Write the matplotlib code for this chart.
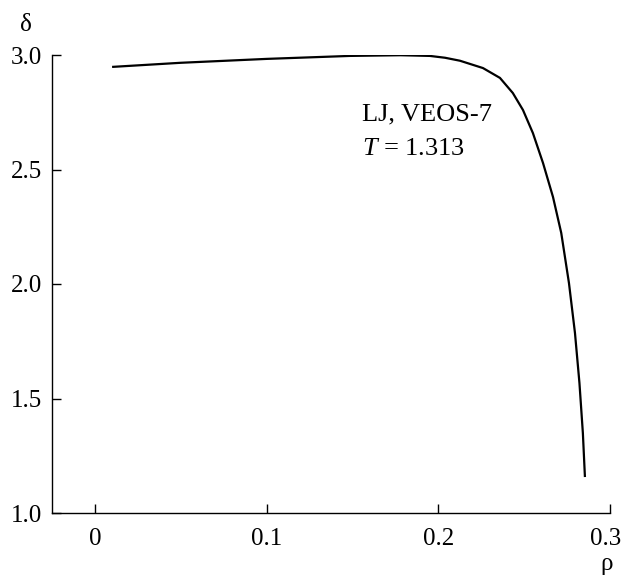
import matplotlib
matplotlib.use("Agg")
import matplotlib.pyplot as plt
import matplotlib.transforms as mtransforms

plt.rcParams['font.family'] = ['Liberation Serif', 'DejaVu Serif']
plt.rcParams['mathtext.fontset'] = 'custom'
plt.rcParams['mathtext.rm'] = 'Liberation Serif'
plt.rcParams['mathtext.it'] = 'Liberation Serif:italic'

rho = [0.010, 0.050, 0.100, 0.1485, 0.178, 0.1951, 0.2039, 0.2126, 0.2260, 0.2359,
       0.2434, 0.2493, 0.2551, 0.2610, 0.2668, 0.2716, 0.2761, 0.2796, 0.2822,
       0.2842, 0.2854]
delta = [2.948, 2.966, 2.983, 2.996, 2.999, 2.996, 2.988, 2.975, 2.943, 2.900,
         2.834, 2.760, 2.659, 2.528, 2.380, 2.223, 2.004, 1.786, 1.568,
         1.349, 1.157]

xticks = [0, 0.1, 0.2, 0.3]
xticklabels = ["0", "0.1", "0.2", "0.3"]
yticks = [1.0, 1.5, 2.0, 2.5, 3.0]
yticklabels = ["1.0", "1.5", "2.0", "2.5", "3.0"]

W, H = 624, 577
fig = plt.figure(figsize=(W / 100, H / 100), dpi=100)
L, R, T, B = 52, 610, 55, 513
ax = fig.add_axes([L / W, 1 - B / H, (R - L) / W, (B - T) / H])

ax.plot(rho, delta, color='black', lw=1.6, solid_capstyle='butt', solid_joinstyle='round')

ax.set_xlim(-0.025, 0.3)
ax.set_ylim(1.0, 3.0)
ax.set_xticks(xticks)
ax.set_xticklabels(xticklabels)
ax.set_yticks(yticks)
ax.set_yticklabels(yticklabels)

for s in ['top', 'right']:
    ax.spines[s].set_visible(False)
for s in ['left', 'bottom']:
    ax.spines[s].set_linewidth(1.0)

fs = 19
tfs = 18
ax.tick_params(axis='both', direction='in', length=6.5, width=1.0, labelsize=tfs)
ax.tick_params(axis='x', pad=11)
ax.tick_params(axis='y', pad=7)

# nudge the last x tick label so it stays inside the figure
last = ax.get_xticklabels()[-1]
last.set_transform(last.get_transform() +
                   mtransforms.ScaledTranslation(-4 / 100, 0, fig.dpi_scale_trans))

ax.text(0.1555, 2.716, "LJ, VEOS-7", fontsize=fs, ha='left', va='baseline')
ax.text(0.1555, 2.563, r"$T$ = 1.313", fontsize=fs, ha='left', va='baseline')

fig.text(26 / W, 1 - 25 / H, "δ", fontsize=tfs, ha='center', va='center')
fig.text(607 / W, 1 - 564 / H, "ρ", fontsize=tfs, ha='center', va='center')

fig.savefig("out.png", dpi=100)
